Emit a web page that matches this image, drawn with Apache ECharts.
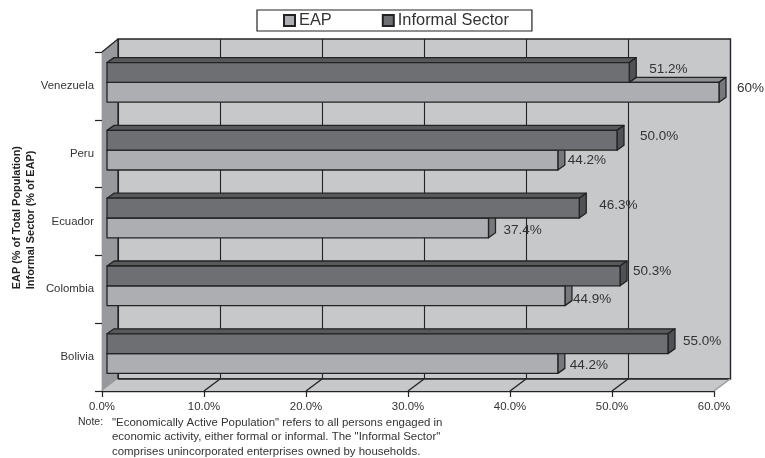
<!DOCTYPE html>
<html><head><meta charset="utf-8">
<style>html,body{margin:0;padding:0;background:#fff}#c{width:765px;height:458px}</style>
<script src="https://cdn.jsdelivr.net/npm/echarts@6/dist/echarts.min.js"></script>
</head><body><div id="c"></div>
<script>
var categories = ['Venezuela', 'Peru', 'Ecuador', 'Colombia', 'Bolivia'];
var eapValues = [60, 44.2, 37.4, 44.9, 44.2];
var informalValues = [51.2, 50.0, 46.3, 50.3, 55.0];
var eapLabels = ['60%', '44.2%', '37.4%', '44.9%', '44.2%'];
var informalLabels = ['51.2%', '50.0%', '46.3%', '50.3%', '55.0%'];
var xTicks = [0, 10, 20, 30, 40, 50, 60];
var noteLines = [
  '"Economically Active Population" refers to all persons engaged in',
  'economic activity, either formal or informal. The "Informal Sector"',
  'comprises unincorporated enterprises owned by households.'
];
// label nudges (layout only): [dx from bar end, dy from bar centre]
var eapNudge = [[11, -4], [3, 0], [8, 2], [1, 4], [5, 2]];
var informalNudge = [[13, -3], [16, -4], [13, -3], [6, -5], [8, -2]];

var FONT = '"Liberation Sans", Arial, sans-serif';
var INK = '#333335', LINE = '#232325';
var WALL_DX = 16, WALL_DY = 12, BAR_DX = 7, BAR_DY = 5, BAR_INSET = 5;

function barRender(isInformal, labels, nudges, front, top, side) {
  return function (params, api) {
    var i = params.dataIndex;
    var end = api.coord([api.value(0), api.value(1)]);
    var start = api.coord([0, api.value(1)]);
    var band = api.size([0, 1])[1];
    var thick = band * 0.292;
    var mid = end[1] - 3.5;
    var y0 = isInformal ? mid - thick : mid;
    var y1 = y0 + thick;
    var x0 = start[0] + BAR_INSET;
    var x1 = end[0] + BAR_INSET;
    var stroke = { stroke: LINE, lineWidth: 1.3, lineJoin: 'round' };
    function poly(pts, fill) {
      return { type: 'polygon', shape: { points: pts }, style: Object.assign({ fill: fill }, stroke) };
    }
    return { type: 'group', children: [
      poly([[x0, y0], [x0 + BAR_DX, y0 - BAR_DY], [x1 + BAR_DX, y0 - BAR_DY], [x1, y0]], top),
      poly([[x1, y0], [x1 + BAR_DX, y0 - BAR_DY], [x1 + BAR_DX, y1 - BAR_DY], [x1, y1]], side),
      poly([[x0, y0], [x1, y0], [x1, y1], [x0, y1]], front),
      { type: 'text', style: {
        text: labels[i], x: x1 + BAR_DX + nudges[i][0], y: (y0 + y1) / 2 + nudges[i][1],
        fill: INK, font: '13.5px ' + FONT, align: 'left', verticalAlign: 'middle'
      } }
    ] };
  };
}

function frameRender(params, api) {
  var cs = params.coordSys, kids = [];
  var x = cs.x, y = cs.y, w = cs.width, h = cs.height;
  var ln = { stroke: LINE, lineWidth: 1.3 };
  if (params.dataIndex === 0) {
    kids.push({ type: 'polygon', shape: { points: [[x, y + h], [x + WALL_DX, y + h - WALL_DY], [x + w + WALL_DX, y + h - WALL_DY], [x + w, y + h]] },
      style: { fill: '#c7c8ca' } });
    kids.push({ type: 'polygon', shape: { points: [[x, y], [x + WALL_DX, y - WALL_DY - 1], [x + WALL_DX, y + h - WALL_DY], [x, y + h]] },
      style: { fill: '#98999c' } });
    kids.push({ type: 'line', shape: { x1: x, y1: y, x2: x + WALL_DX, y2: y - WALL_DY - 1 }, style: ln });
    kids.push({ type: 'line', shape: { x1: x + WALL_DX, y1: y - WALL_DY - 1, x2: x + WALL_DX, y2: y + h - WALL_DY }, style: ln });
    kids.push({ type: 'line', shape: { x1: x + WALL_DX, y1: y + h - WALL_DY, x2: x + w + WALL_DX, y2: y + h - WALL_DY }, style: ln });
    kids.push({ type: 'line', shape: { x1: x + w, y1: y + h, x2: x + w + WALL_DX, y2: y + h - WALL_DY }, style: { stroke: '#9a9b9e', lineWidth: 1.5 } });
  }
  var p = api.coord([api.value(0), 0]);
  if (api.value(0) > 0 && api.value(0) < 60) {
    kids.push({ type: 'line', shape: { x1: p[0], y1: y + h, x2: p[0] + WALL_DX, y2: y + h - WALL_DY }, style: ln });
  }
  return { type: 'group', children: kids };
}

var noteGraphics = [{ type: 'text', left: 78, top: 417, style: { text: 'Note:', fill: INK, font: '10.5px ' + FONT } }];
noteLines.forEach(function (t, i) {
  noteGraphics.push({ type: 'text', left: 112, top: 417 + i * 14.5, style: { text: t, fill: INK, font: '11.45px ' + FONT } });
});
noteGraphics.push({ type: 'text', rotation: Math.PI / 2, left: 10, top: 146, style: {
  text: 'EAP (% of Total Population)\nInformal Sector (% of EAP)', fill: '#222', font: 'bold 10.9px ' + FONT,
  align: 'center', lineHeight: 14 } });

var chart = echarts.init(document.getElementById('c'), null, { renderer: 'canvas' });
chart.setOption({
  animation: false,
  backgroundColor: '#fff',
  textStyle: { fontFamily: FONT },
  legend: {
    left: 257, top: 10, padding: [2.5, 23, 2.5, 26], itemGap: 50, itemWidth: 11, itemHeight: 11,
    data: ['EAP', 'Informal Sector'], icon: 'rect', selectedMode: false,
    backgroundColor: '#fff', borderColor: LINE, borderWidth: 1.2,
    textStyle: { color: INK, fontSize: 16.4, fontFamily: FONT, padding: [0, 0, 0, -1] }
  },
  grid: [
    { left: 118, top: 39, width: 612.5, height: 340, show: true, backgroundColor: '#c7c8ca', borderColor: LINE, borderWidth: 1.3, containLabel: false },
    { left: 102, top: 52, width: 612, height: 339, containLabel: false }
  ],
  xAxis: [
    { gridIndex: 0, type: 'value', min: 0, max: 60, interval: 10, axisLabel: { show: false }, axisTick: { show: false }, axisLine: { show: false },
      splitLine: { show: true, lineStyle: { color: LINE, width: 1.1 } } },
    { gridIndex: 1, type: 'value', min: 0, max: 60, interval: 10, position: 'bottom', splitLine: { show: false },
      axisLine: { show: true, onZero: false, lineStyle: { color: LINE, width: 1.3 } },
      axisTick: { show: true, length: 6, lineStyle: { color: LINE, width: 1.2 } },
      axisLabel: { show: true, margin: 10, color: INK, fontSize: 11.4, fontFamily: FONT, formatter: function (v) { return v.toFixed(1) + '%'; } } }
  ],
  yAxis: [
    { gridIndex: 0, type: 'category', data: categories, inverse: true, show: false },
    { gridIndex: 1, type: 'category', data: categories, inverse: true,
      axisLine: { show: true, onZero: false, lineStyle: { color: LINE, width: 1.3 } },
      axisTick: { show: true, length: 7, alignWithLabel: false, lineStyle: { color: LINE, width: 1.2 } },
      axisLabel: { margin: 8, color: INK, fontSize: 11.4, fontFamily: FONT },
      splitLine: { show: false } }
  ],
  series: [
    { name: 'frame', type: 'custom', xAxisIndex: 1, yAxisIndex: 1, silent: true, z: 1, clip: false,
      encode: { x: 0, y: 1 }, data: xTicks.map(function (t) { return [t, 0]; }), renderItem: frameRender },
    { name: 'EAP', type: 'custom', xAxisIndex: 1, yAxisIndex: 1, z: 3, clip: false,
      itemStyle: { color: '#adaeb1', borderColor: LINE, borderWidth: 1 },
      encode: { x: 0, y: 1 }, data: eapValues.map(function (v, i) { return [v, i]; }),
      renderItem: barRender(false, eapLabels, eapNudge, '#adaeb1', '#8e8f92', '#77787b') },
    { name: 'Informal Sector', type: 'custom', xAxisIndex: 1, yAxisIndex: 1, z: 4, clip: false,
      itemStyle: { color: '#6e6f72', borderColor: LINE, borderWidth: 1 },
      encode: { x: 0, y: 1 }, data: informalValues.map(function (v, i) { return [v, i]; }),
      renderItem: barRender(true, informalLabels, informalNudge, '#6e6f72', '#58595b', '#505154') }
  ],
  graphic: noteGraphics
});
</script></body></html>
